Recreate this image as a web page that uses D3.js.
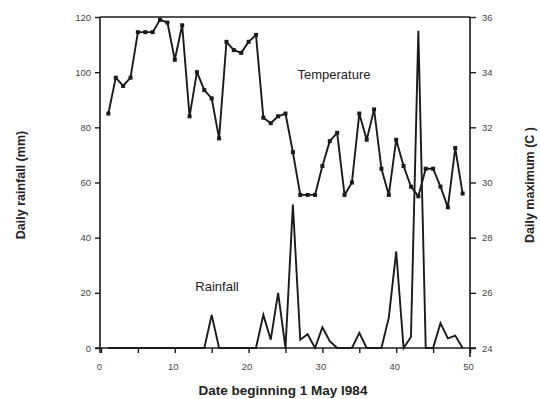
<!DOCTYPE html>
<html>
<head>
<meta charset="utf-8">
<script src="https://cdn.jsdelivr.net/npm/d3@7"></script>
<style>
  html, body { margin: 0; padding: 0; background: #fff; }
  svg { display: block; }
  text { font-family: "Liberation Sans", Arial, Helvetica, sans-serif; }
</style>
</head>
<body>
<svg id="chart" width="540" height="399"></svg>
<script>
// ---- data ----
const days = d3.range(1, 50); // days 1..49
const temperature = [
  32.5, 33.8, 33.5, 33.8, 35.45, 35.45, 35.45, 35.9, 35.8, 34.45,
  35.7, 32.4, 34.0, 33.35, 33.05, 31.6, 35.1, 34.8, 34.7, 35.1,
  35.35, 32.35, 32.15, 32.4, 32.5, 31.1, 29.55, 29.55, 29.55, 30.6,
  31.5, 31.8, 29.55, 30.0, 32.5, 31.55, 32.65, 30.5, 29.55, 31.55,
  30.6, 29.85, 29.5, 30.5, 30.5, 29.85, 29.1, 31.25, 29.6
];
const rainfall = [
  0, 0, 0, 0, 0, 0, 0, 0, 0, 0,
  0, 0, 0, 0, 12, 0, 0, 0, 0, 0,
  0, 12, 3, 20, 0, 52, 3, 5, 0, 7.5,
  2.5, 0, 0, 0, 5.5, 0, 0, 0, 11, 35,
  0, 4, 115, 0, 0, 9, 3.5, 4.5, 0
];
const xTicks = [0, 5, 10, 15, 20, 25, 30, 35, 40, 45, 50];
const xTickLabels = [0, 10, 20, 30, 40, 50];
const rainTicks = [0, 20, 40, 60, 80, 100, 120];
const tempTicks = [24, 26, 28, 30, 32, 34, 36];

// ---- layout ----
const svg = d3.select("#chart");
const x = d3.scaleLinear().domain([0, 50]).range([101, 470]);
const yRain = d3.scaleLinear().domain([0, 120]).range([348, 17]);
const yTemp = d3.scaleLinear().domain([24, 36]).range([348, 17]);
const ink = "#1a1a1a";
const labelInk = "#444";

// top border
svg.append("line")
  .attr("x1", x(0) - 1).attr("x2", x(50))
  .attr("y1", yRain(120)).attr("y2", yRain(120))
  .attr("stroke", ink).attr("stroke-width", 1.6);

// left axis
const left = svg.append("g").attr("transform", `translate(${x(0) - 1},0)`)
  .call(d3.axisLeft(yRain).tickValues(rainTicks).tickSize(5).tickPadding(4));
// right axis
const right = svg.append("g").attr("transform", `translate(${x(50)},0)`)
  .call(d3.axisRight(yTemp).tickValues(tempTicks).tickSize(6).tickPadding(6));
// bottom axis
const bottom = svg.append("g").attr("transform", `translate(0,${yRain(0)})`)
  .call(d3.axisBottom(x).tickValues(xTicks).tickSize(5)
    .tickFormat(d => xTickLabels.includes(d) ? d : ""));

[left, right, bottom].forEach(g => {
  g.select(".domain").remove();
  g.selectAll(".tick line").attr("stroke", ink).attr("stroke-width", 1.4);
  g.selectAll(".tick text").attr("fill", labelInk)
    .style("font-size", "9.5px");
});
bottom.selectAll(".tick text").attr("dy", "1.5em").attr("dx", "-2");

// axis lines
svg.append("line").attr("x1", x(0) - 1).attr("x2", x(0) - 1)
  .attr("y1", yRain(120)).attr("y2", yRain(0) + 5)
  .attr("stroke", ink).attr("stroke-width", 1.6);
svg.append("line").attr("x1", x(50)).attr("x2", x(50))
  .attr("y1", yRain(120)).attr("y2", yRain(0) + 9)
  .attr("stroke", ink).attr("stroke-width", 1.6);
svg.append("line").attr("x1", x(0) - 6).attr("x2", x(50) + 6)
  .attr("y1", yRain(0)).attr("y2", yRain(0))
  .attr("stroke", ink).attr("stroke-width", 1.6);

// rainfall line
const rainLine = d3.line().x((d, i) => x(days[i])).y(d => yRain(d));
svg.append("path").datum(rainfall)
  .attr("d", rainLine).attr("fill", "none")
  .attr("stroke", ink).attr("stroke-width", 1.9).attr("stroke-linejoin", "miter");

// temperature line
const tempLine = d3.line().x((d, i) => x(days[i])).y(d => yTemp(d));
svg.append("path").datum(temperature)
  .attr("d", tempLine).attr("fill", "none")
  .attr("stroke", ink).attr("stroke-width", 1.9).attr("stroke-linejoin", "round");
svg.append("g").selectAll("rect").data(temperature).join("rect")
  .attr("x", (d, i) => x(days[i]) - 2)
  .attr("y", d => yTemp(d) - 2)
  .attr("width", 4).attr("height", 4)
  .attr("fill", ink);

// series labels
svg.append("text").attr("x", 334).attr("y", 79).attr("text-anchor", "middle")
  .style("font-size", "13px").attr("fill", "#222").text("Temperature");
svg.append("text").attr("x", 217).attr("y", 291).attr("text-anchor", "middle")
  .style("font-size", "13px").attr("fill", "#222").text("Rainfall");

// axis titles
svg.append("text").attr("x", 283).attr("y", 395).attr("text-anchor", "middle")
  .style("font-size", "13.5px").style("font-weight", "bold").attr("fill", "#222")
  .text("Date beginning 1 May I984");
svg.append("text").attr("transform", "translate(25,185) rotate(-90)")
  .attr("text-anchor", "middle")
  .style("font-size", "12.5px").style("font-weight", "bold").attr("fill", "#222")
  .text("Daily rainfall (mm)");
svg.append("text").attr("transform", "translate(534,185) rotate(-90)")
  .attr("text-anchor", "middle")
  .style("font-size", "12.5px").style("font-weight", "bold").attr("fill", "#222")
  .text("Daily maximum (C )");
</script>
</body>
</html>
